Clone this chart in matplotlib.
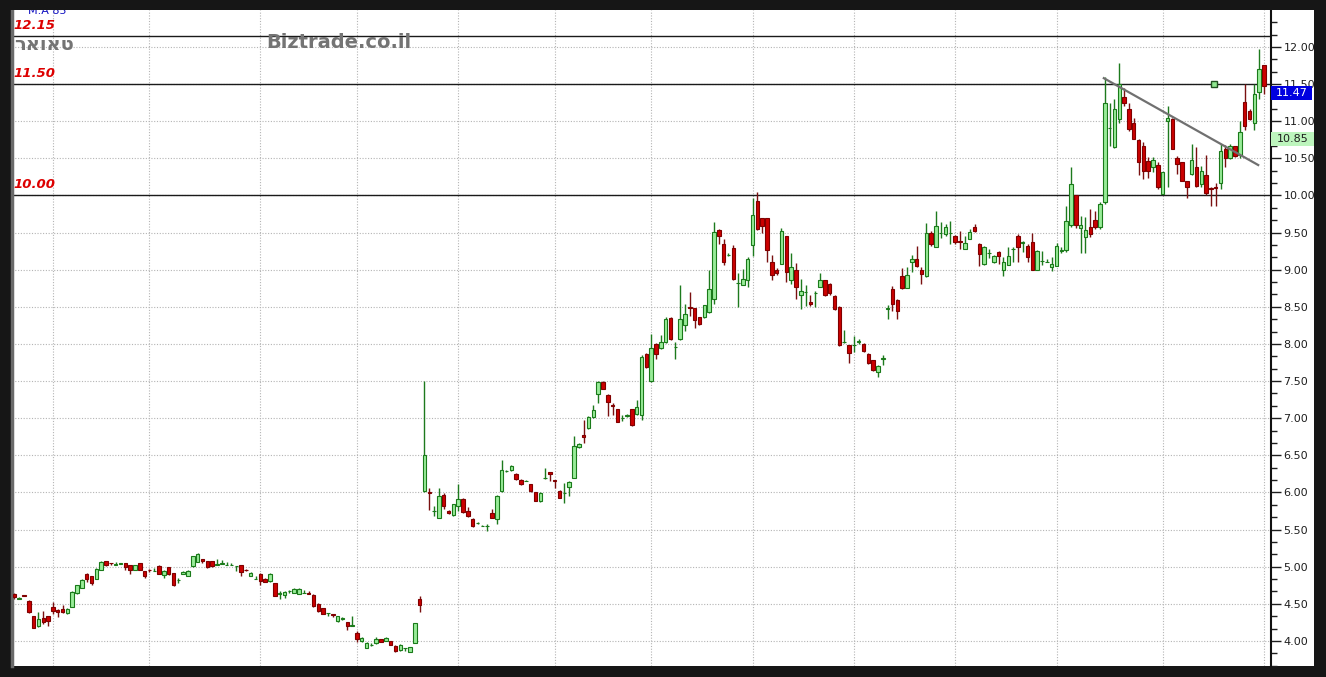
import matplotlib
matplotlib.use('Agg')
import numpy as np
import matplotlib.pyplot as plt
import matplotlib.transforms as mtransforms
from matplotlib.patches import Rectangle
from matplotlib.ticker import MultipleLocator, FormatStrFormatter

# daily candles, oldest first
opens = [
    4.635, 4.57, 4.62, 4.545, 4.33, 4.20, 4.31, 4.33, 4.46, 4.42,
    4.43, 4.38, 4.46, 4.64, 4.72, 4.90, 4.87, 4.84, 4.955, 5.08,
    5.05, 5.03, 5.04, 5.045, 5.02, 4.955, 5.045, 4.94, 4.96, 4.94,
    5.01, 4.89, 5.00, 4.91, 4.82, 4.905, 4.87, 5.01, 5.07, 5.10,
    5.08, 5.08, 5.03, 5.04, 5.03, 5.02, 5.01, 5.02, 4.96, 4.88,
    4.83, 4.90, 4.84, 4.81, 4.775, 4.63, 4.62, 4.67, 4.64, 4.635,
    4.65, 4.64, 4.625, 4.50, 4.445, 4.38, 4.36, 4.265, 4.29, 4.25,
    4.205, 4.11, 4.00, 3.905, 3.95, 3.97, 4.03, 4.00, 4.00, 3.935,
    3.88, 3.90, 3.85, 3.97, 4.56, 6.02, 6.00, 5.75, 5.66, 5.96,
    5.75, 5.69, 5.82, 5.91, 5.75, 5.64, 5.59, 5.55, 5.55, 5.72,
    5.64, 6.02, 6.29, 6.30, 6.25, 6.17, 6.15, 6.12, 6.00, 5.88,
    6.20, 6.27, 6.17, 6.02, 5.99, 6.08, 6.20, 6.61, 6.78, 6.87,
    7.01, 7.33, 7.49, 7.31, 7.18, 7.13, 7.00, 7.03, 7.12, 7.06,
    7.04, 7.87, 7.50, 8.00, 7.94, 8.03, 8.35, 7.96, 8.07, 8.25,
    8.50, 8.48, 8.36, 8.36, 8.43, 8.61, 9.54, 9.34, 9.20, 9.29,
    8.82, 8.80, 8.86, 9.33, 9.93, 9.69, 9.69, 9.11, 8.99, 9.08,
    9.46, 8.86, 8.99, 8.66, 8.70, 8.57, 8.68, 8.77, 8.86, 8.81,
    8.65, 8.50, 8.02, 7.98, 7.99, 8.03, 8.00, 7.87, 7.78, 7.62,
    7.80, 8.47, 8.74, 8.59, 8.91, 8.76, 9.10, 9.14, 9.00, 8.91,
    9.49, 9.31, 9.50, 9.48, 9.50, 9.46, 9.39, 9.28, 9.42, 9.58,
    9.35, 9.08, 9.23, 9.10, 9.24, 9.00, 9.06, 9.28, 9.46, 9.36,
    9.32, 9.37, 9.00, 9.12, 9.11, 9.03, 9.05, 9.25, 9.26, 9.60,
    10.00, 9.56, 9.44, 9.57, 9.67, 9.57, 9.91, 10.91, 10.65, 11.03,
    11.32, 11.16, 10.98, 10.75, 10.66, 10.46, 10.38, 10.41, 10.02, 11.00,
    11.03, 10.51, 10.45, 10.19, 10.29, 10.39, 10.15, 10.27, 10.10, 10.12,
    10.17, 10.63, 10.50, 10.66, 10.54, 11.26, 11.14, 10.98, 11.40, 11.76,
]
highs = [
    4.65, 4.59, 4.62, 4.55, 4.34, 4.39, 4.40, 4.34, 4.52, 4.43,
    4.48, 4.44, 4.67, 4.76, 4.83, 4.91, 4.88, 4.98, 5.08, 5.08,
    5.05, 5.06, 5.05, 5.05, 5.03, 5.03, 5.05, 4.94, 4.97, 4.98,
    5.03, 4.95, 5.00, 4.92, 4.85, 4.94, 4.95, 5.15, 5.19, 5.10,
    5.08, 5.08, 5.10, 5.09, 5.07, 5.05, 5.01, 5.03, 4.97, 4.93,
    4.87, 4.91, 4.85, 4.91, 4.78, 4.67, 4.67, 4.69, 4.71, 4.71,
    4.69, 4.67, 4.63, 4.51, 4.45, 4.38, 4.36, 4.34, 4.32, 4.25,
    4.34, 4.13, 4.05, 3.98, 3.97, 4.05, 4.03, 4.06, 4.00, 3.94,
    3.96, 3.90, 3.92, 4.24, 4.60, 7.50, 6.06, 5.82, 6.06, 5.99,
    5.76, 5.85, 6.11, 5.93, 5.80, 5.65, 5.60, 5.56, 5.57, 5.78,
    5.97, 6.44, 6.30, 6.37, 6.26, 6.18, 6.17, 6.12, 6.00, 6.00,
    6.33, 6.27, 6.17, 6.03, 6.13, 6.15, 6.76, 6.66, 6.98, 7.03,
    7.18, 7.50, 7.50, 7.32, 7.20, 7.13, 7.04, 7.06, 7.12, 7.24,
    7.85, 7.88, 8.14, 8.01, 8.12, 8.36, 8.36, 8.02, 8.79, 8.54,
    8.70, 8.49, 8.37, 8.53, 8.99, 9.64, 9.55, 9.42, 9.22, 9.33,
    8.95, 9.01, 9.17, 9.96, 10.05, 9.69, 9.69, 9.20, 9.02, 9.56,
    9.46, 9.22, 9.09, 8.88, 8.80, 8.66, 8.72, 8.95, 8.86, 8.82,
    8.66, 8.51, 8.19, 7.99, 8.11, 8.07, 8.01, 7.88, 7.79, 7.72,
    7.85, 8.52, 8.78, 8.60, 9.02, 9.03, 9.20, 9.32, 9.03, 9.63,
    9.52, 9.79, 9.64, 9.61, 9.66, 9.47, 9.52, 9.46, 9.55, 9.62,
    9.36, 9.32, 9.28, 9.20, 9.25, 9.17, 9.30, 9.30, 9.48, 9.39,
    9.34, 9.50, 9.27, 9.25, 9.15, 9.17, 9.36, 9.31, 9.86, 10.38,
    10.00, 9.72, 9.71, 9.82, 9.79, 9.91, 11.59, 11.24, 11.30, 11.78,
    11.45, 11.25, 11.04, 10.76, 10.72, 10.52, 10.52, 10.45, 10.31, 11.21,
    11.04, 10.53, 10.45, 10.20, 10.70, 10.65, 10.40, 10.55, 10.11, 10.17,
    10.69, 10.68, 10.69, 10.67, 11.00, 11.50, 11.16, 11.50, 11.97, 11.76,
]
lows = [
    4.57, 4.57, 4.60, 4.38, 4.17, 4.19, 4.23, 4.20, 4.37, 4.32,
    4.38, 4.37, 4.46, 4.63, 4.71, 4.80, 4.76, 4.83, 4.95, 5.01,
    5.02, 5.03, 5.04, 4.95, 4.90, 4.95, 4.95, 4.85, 4.93, 4.94,
    4.90, 4.85, 4.89, 4.74, 4.78, 4.90, 4.87, 5.00, 5.06, 5.05,
    4.98, 5.00, 5.03, 5.04, 5.03, 5.02, 4.94, 4.87, 4.94, 4.88,
    4.83, 4.76, 4.79, 4.80, 4.60, 4.56, 4.58, 4.65, 4.64, 4.63,
    4.65, 4.63, 4.46, 4.39, 4.36, 4.34, 4.32, 4.26, 4.28, 4.15,
    4.205, 3.99, 3.99, 3.90, 3.93, 3.96, 3.98, 4.00, 3.94, 3.85,
    3.87, 3.86, 3.85, 3.97, 4.39, 6.00, 5.77, 5.68, 5.66, 5.78,
    5.71, 5.68, 5.75, 5.73, 5.67, 5.53, 5.57, 5.55, 5.48, 5.66,
    5.57, 6.00, 6.28, 6.29, 6.17, 6.10, 6.15, 6.00, 5.88, 5.87,
    6.18, 6.15, 6.06, 5.92, 5.86, 5.95, 6.20, 6.60, 6.66, 6.86,
    7.00, 7.20, 7.39, 7.03, 7.04, 6.95, 6.96, 7.02, 6.90, 7.04,
    6.97, 7.68, 7.49, 7.80, 7.93, 8.01, 8.06, 7.80, 8.05, 8.18,
    8.38, 8.21, 8.26, 8.35, 8.42, 8.54, 9.35, 9.06, 9.18, 8.86,
    8.50, 8.79, 8.77, 9.19, 9.53, 9.50, 9.10, 8.86, 8.93, 9.08,
    8.84, 8.81, 8.61, 8.47, 8.51, 8.51, 8.50, 8.77, 8.65, 8.66,
    8.46, 7.97, 8.01, 7.75, 7.89, 8.00, 7.89, 7.73, 7.64, 7.56,
    7.72, 8.33, 8.45, 8.34, 8.74, 8.75, 8.97, 9.03, 8.81, 8.90,
    9.32, 9.30, 9.43, 9.46, 9.34, 9.34, 9.28, 9.28, 9.42, 9.51,
    9.05, 9.07, 9.16, 9.09, 9.08, 8.91, 9.06, 9.10, 9.10, 9.24,
    9.10, 8.99, 8.99, 9.06, 9.11, 8.98, 9.05, 9.22, 9.24, 9.58,
    9.56, 9.23, 9.22, 9.44, 9.55, 9.55, 9.88, 10.67, 10.64, 10.98,
    11.21, 10.87, 10.76, 10.27, 10.22, 10.24, 10.32, 10.09, 10.02, 10.12,
    10.62, 10.29, 10.20, 9.96, 10.27, 10.11, 10.12, 10.00, 9.86, 9.86,
    10.09, 10.38, 10.49, 10.52, 10.51, 10.88, 11.01, 10.88, 11.30, 11.36,
]
closes = [
    4.595, 4.58, 4.61, 4.39, 4.175, 4.30, 4.25, 4.27, 4.405, 4.39,
    4.39, 4.43, 4.66, 4.75, 4.82, 4.83, 4.78, 4.97, 5.06, 5.02,
    5.045, 5.035, 5.05, 4.99, 4.955, 5.02, 4.955, 4.87, 4.955, 4.945,
    4.905, 4.945, 4.90, 4.75, 4.82, 4.93, 4.94, 5.14, 5.17, 5.08,
    5.00, 5.01, 5.035, 5.045, 5.03, 5.02, 5.01, 4.93, 4.95, 4.92,
    4.83, 4.81, 4.79, 4.90, 4.61, 4.64, 4.66, 4.67, 4.70, 4.70,
    4.65, 4.635, 4.47, 4.40, 4.37, 4.38, 4.355, 4.335, 4.31, 4.20,
    4.21, 4.02, 4.04, 3.97, 3.95, 4.03, 3.98, 4.035, 3.95, 3.86,
    3.95, 3.90, 3.915, 4.24, 4.48, 6.50, 5.99, 5.75, 5.95, 5.82,
    5.72, 5.84, 5.91, 5.74, 5.68, 5.55, 5.59, 5.55, 5.55, 5.66,
    5.95, 6.30, 6.29, 6.36, 6.18, 6.11, 6.15, 6.02, 5.89, 5.99,
    6.20, 6.25, 6.15, 5.93, 5.99, 6.14, 6.63, 6.65, 6.75, 7.02,
    7.11, 7.49, 7.40, 7.22, 7.17, 6.95, 7.00, 7.05, 6.91, 7.15,
    7.83, 7.69, 7.94, 7.87, 8.03, 8.34, 8.07, 7.96, 8.33, 8.41,
    8.48, 8.32, 8.27, 8.52, 8.74, 9.51, 9.46, 9.10, 9.20, 8.88,
    8.82, 8.87, 9.15, 9.74, 9.55, 9.59, 9.26, 8.93, 8.96, 9.52,
    8.97, 9.04, 8.77, 8.71, 8.70, 8.54, 8.68, 8.86, 8.66, 8.68,
    8.47, 7.98, 8.02, 7.88, 7.99, 8.04, 7.91, 7.74, 7.65, 7.71,
    7.81, 8.48, 8.54, 8.44, 8.75, 8.93, 9.15, 9.05, 8.94, 9.49,
    9.34, 9.59, 9.50, 9.58, 9.50, 9.37, 9.37, 9.36, 9.51, 9.52,
    9.21, 9.30, 9.23, 9.19, 9.18, 9.10, 9.18, 9.28, 9.30, 9.37,
    9.17, 8.99, 9.25, 9.12, 9.11, 9.08, 9.32, 9.26, 9.66, 10.15,
    9.60, 9.60, 9.53, 9.48, 9.57, 9.89, 11.25, 10.91, 11.16, 11.50,
    11.24, 10.90, 10.76, 10.45, 10.33, 10.33, 10.48, 10.11, 10.31, 11.05,
    10.63, 10.42, 10.20, 10.12, 10.48, 10.13, 10.33, 10.04, 10.09, 10.10,
    10.60, 10.51, 10.66, 10.53, 10.86, 10.94, 11.03, 11.37, 11.70, 11.47,
]

# first trading day of each month (candle index)
month_starts = [8, 28, 51, 71, 92, 112, 132, 153, 174, 195, 216, 238, 259]
levels = [12.15, 11.50, 10.00]
level_labels = ['12.15', '11.50', '10.00']
last_price = 11.47
ma_value = 10.85
ma_label = 'M:A 85'
trend_x = [225.8, 257.8]
trend_y = [11.58, 10.41]
alert_x = 248.6
alert_y = 11.50
title = 'טאואר'
watermark = 'Biztrade.co.il'


def main():
    plt.rcParams['font.family'] = ['DejaVu Sans']
    W, H = 1326, 677
    fig = plt.figure(figsize=(W / 100, H / 100), dpi=100, facecolor='#161616')

    def fx(px):
        return px / W

    def fy(py):
        return 1 - py / H

    # white panel behind the plot and price scale
    fig.add_artist(Rectangle((fx(12), fy(666)), fx(1314) - fx(12), fy(10) - fy(666),
                             transform=fig.transFigure, facecolor='white',
                             edgecolor='none', zorder=-1))
    ax = fig.add_axes([fx(12), fy(666), fx(1271) - fx(12), fy(10) - fy(666)])
    ax.set_facecolor('white')

    o = np.array(opens)
    h = np.array(highs)
    l = np.array(lows)
    c = np.array(closes)
    idx = np.arange(len(o))
    up = c >= o
    wick_col = np.where(up, '#1d7a1d', '#7a1010')
    body_col = np.where(up, '#98ec98', '#cc0000')
    edge_col = np.where(up, '#1a7a1a', '#800000')

    ax.vlines(idx, l, h, colors=wick_col, linewidth=1, zorder=2)
    ax.bar(idx, np.abs(c - o), bottom=np.minimum(o, c), width=0.72,
           color=body_col, edgecolor=edge_col, linewidth=0.8, zorder=3)

    for lv in levels:
        ax.axhline(lv, color='#1a1a1a', linewidth=1, zorder=1.5)
    for lv, txt in zip(levels, level_labels):
        ax.annotate(txt, xy=(0.001, lv), xycoords=('axes fraction', 'data'),
                    xytext=(0, 3), textcoords='offset points',
                    color='#dd0000', fontsize=9.5, fontweight='bold',
                    fontstyle='italic', va='bottom', ha='left')

    ax.plot(trend_x, trend_y, color='#707070', linewidth=1.6, zorder=4)
    ax.plot(alert_x, alert_y, marker='s', markersize=5, markerfacecolor='#90e890',
            markeredgecolor='#205020', markeredgewidth=1, zorder=5)

    ax.set_xlim(-0.48, 260.45)
    ax.set_ylim(3.663, 12.498)

    ax.set_xticks(month_starts)
    ax.tick_params(axis='x', length=0, labelbottom=False)
    ax.yaxis.tick_right()
    ax.yaxis.set_major_locator(MultipleLocator(0.5))
    ax.yaxis.set_minor_locator(MultipleLocator(0.5 / 3))
    ax.yaxis.set_major_formatter(FormatStrFormatter('%.2f'))
    ax.tick_params(axis='y', which='major', length=7, width=1, direction='out',
                   labelsize=8, pad=2, colors='#1e1e1e')
    ax.tick_params(axis='y', which='minor', length=4, width=1, direction='out',
                   colors='#1e1e1e')
    ax.grid(True, which='major', color='#b4b4b4', linestyle=(0, (1, 1.5)), linewidth=0.8)
    ax.set_axisbelow(True)

    for s in ['top', 'bottom']:
        ax.spines[s].set_visible(False)
    ax.spines['left'].set_color('#6a6a6a')
    ax.spines['left'].set_linewidth(2.5)
    ax.spines['right'].set_color('#111111')
    ax.spines['right'].set_linewidth(1.5)

    # value boxes on the price scale
    blend = mtransforms.blended_transform_factory(ax.transAxes, ax.transData)
    box_h = 14 / 74.25
    ax.add_patch(Rectangle((1.0, last_price - box_h), 41 / 1259, box_h, transform=blend,
                           facecolor='#0000e0', edgecolor='none', clip_on=False, zorder=6))
    ax.text(1.0 + 20.5 / 1259, last_price - box_h / 2, f'{last_price:.2f}', transform=blend,
            color='white', fontsize=8, ha='center', va='center', clip_on=False, zorder=7)
    ax.add_patch(Rectangle((1.0, ma_value - box_h), 43 / 1259, box_h, transform=blend,
                           facecolor='#bdf5bd', edgecolor='none', clip_on=False, zorder=6))
    ax.text(1.0 + 21.5 / 1259, ma_value - box_h / 2, f'{ma_value:.2f}', transform=blend,
            color='#1e1e1e', fontsize=8, ha='center', va='center', clip_on=False, zorder=7)

    fig.text(fx(14), fy(44), title[::-1], color='#747474', fontsize=14,
             fontweight='bold', ha='left', va='center')
    fig.text(fx(266), fy(43), watermark, color='#747474', fontsize=14,
             fontweight='bold', ha='left', va='center')
    fig.text(fx(28), fy(16), ma_label, color='#1010c0', fontsize=8,
             ha='left', va='bottom')
    # dark frame strip across the top hides the upper half of the MA label
    fig.add_artist(Rectangle((0, fy(10)), 1, 10 / H, transform=fig.transFigure,
                             facecolor='#161616', edgecolor='none', zorder=10))

    fig.savefig('out.png', dpi=100, facecolor=fig.get_facecolor())


if __name__ == '__main__':
    main()
